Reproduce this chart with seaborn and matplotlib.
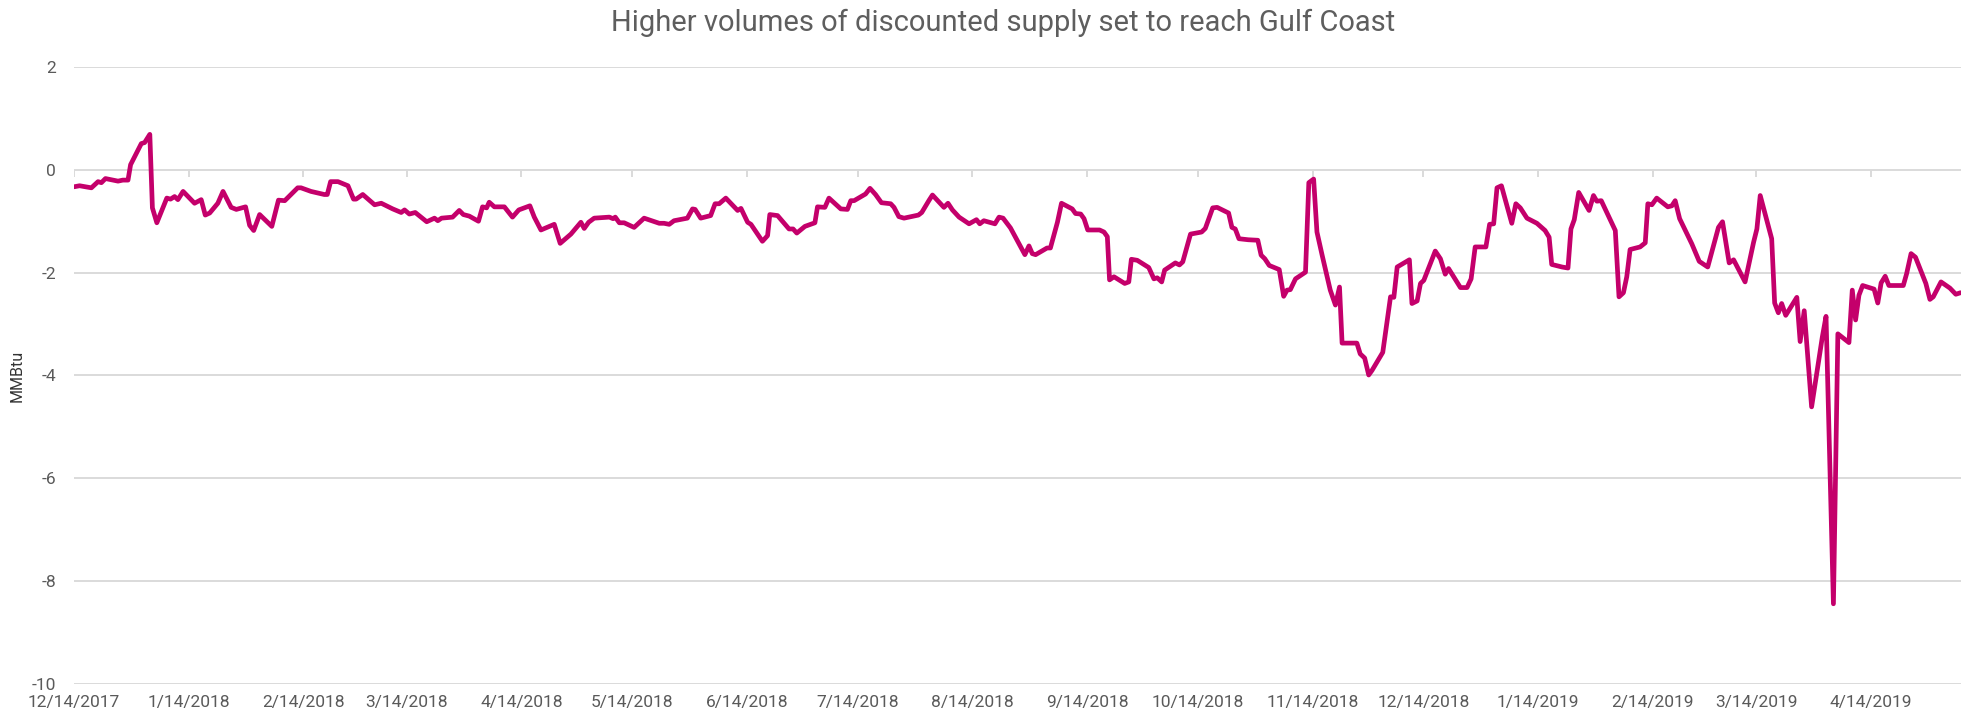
"""Gulf Coast basis spread chart (MMBtu), redrawn with seaborn."""

import matplotlib

matplotlib.use("Agg")

import matplotlib.pyplot as plt
import pandas as pd
import seaborn as sns

TITLE = "Higher volumes of discounted supply set to reach Gulf Coast"
Y_LABEL = "MMBtu"
START_DATE = "2017-12-14"

# Days after START_DATE.
DAYS = [
    0.0, 1.5, 4.7, 6.5, 7.4, 8.5, 11.9, 13.2, 14.6, 15.3, 18.2, 19.1, 20.5, 21.2,
    22.4, 25.1, 26.1, 27.2, 28.1, 29.5, 32.6, 34.4, 35.5, 36.7, 38.9, 40.3, 42.5,
    43.9, 46.4, 47.5, 48.6, 50.2, 53.5, 55.3, 57.0, 60.5, 61.4, 64.1, 67.7, 68.5,
    69.4, 71.4, 74.1, 75.6, 76.3, 78.1, 81.3, 83.1, 86.2,
    88.5, 89.4, 90.7, 92.3, 95.4, 97.5, 98.4, 99.4, 102.4, 104.2, 105.3, 106.9,
    109.4, 110.5, 111.6, 112.3, 113.7, 116.4, 118.6, 120.3, 123.3, 124.5, 126.3,
    129.9, 131.5, 134.4, 137.1, 138.0, 139.2, 140.7, 144.8, 145.8, 146.4, 147.5,
    148.8, 151.5, 154.2, 158.3, 159.6, 161.0, 162.3, 165.9, 167.3, 168.0, 169.5,
    172.2, 173.4, 174.5,
    176.3, 179.5, 180.4, 182.2, 183.1, 186.2, 187.6, 188.2, 190.3, 193.4, 194.5,
    195.5, 197.7, 200.4, 201.1, 203.1, 204.2, 207.4, 209.2, 210.1, 211.0, 214.1,
    215.3, 216.8, 218.4, 220.9, 221.8, 223.1, 224.5, 228.4, 229.3, 231.3, 232.2,
    235.3, 236.4, 237.6, 239.4, 242.1, 244.1, 245.0, 246.1, 249.1, 250.2, 251.3,
    253.3, 257.2, 258.3, 259.2, 260.1, 263.2, 264.1,
    266.0, 267.1, 270.0, 270.9, 272.3, 273.2, 274.2, 277.4, 278.6, 279.5, 280.1,
    281.3, 284.2, 285.3, 286.0, 287.6, 290.7, 292.1, 293.0, 294.2, 295.0, 297.9,
    299.0, 299.9, 302.0, 305.0, 306.0, 308.0, 309.2, 312.3, 313.2, 314.1, 315.1,
    317.6, 320.2, 321.1, 322.1, 323.3, 326.0, 327.2, 328.1, 329.0, 330.4, 333.1,
    334.0, 335.3, 336.2, 337.6, 339.8, 341.2, 342.3, 343.0, 347.0, 347.9, 349.1,
    350.2, 351.1,
    354.0, 356.1, 357.0, 357.9, 361.2, 361.9, 363.3, 364.2, 365.1, 368.2, 369.6,
    370.9, 371.8, 375.0, 376.8, 377.9, 379.0, 381.9, 382.9, 384.0, 384.9, 386.1,
    388.9, 390.0, 391.2, 393.0, 395.7, 397.9, 399.0, 399.7, 402.5, 404.1, 404.9,
    405.8, 407.0, 409.8, 411.0, 411.9, 413.1, 416.9, 417.9, 419.1, 420.0, 420.9,
    423.6, 425.0, 425.7, 426.8, 428.1, 431.1, 432.2, 433.1, 434.3, 437.6,
    439.6, 441.9, 444.8, 445.9, 447.7, 448.9, 452.0, 454.3, 455.2, 456.1, 459.2,
    460.0, 461.0, 461.9, 463.0, 466.0, 466.9, 468.0, 470.0, 472.9, 473.9, 475.9,
    477.1, 480.1, 481.0, 481.9, 482.8, 483.8, 486.9, 487.9, 488.8, 489.9, 490.9,
    494.8, 495.7, 496.9, 498.1, 500.9, 502.0, 502.9, 505.0, 507.4, 509.0, 510.3,
]

# Basis spread, $/MMBtu.
SPREAD = [
    -0.33, -0.31, -0.35, -0.23, -0.25, -0.17, -0.22, -0.20, -0.20, 0.10, 0.51,
    0.53, 0.69, -0.74, -1.03, -0.55, -0.57, -0.52, -0.58, -0.42, -0.65, -0.58,
    -0.88, -0.84, -0.65, -0.42, -0.73, -0.77, -0.72, -1.08, -1.18, -0.87, -1.10,
    -0.59, -0.60, -0.35, -0.35, -0.42, -0.48, -0.48, -0.23, -0.23, -0.31, -0.57,
    -0.57, -0.48, -0.68, -0.65, -0.76,
    -0.83, -0.78, -0.86, -0.83, -1.01, -0.94, -0.99, -0.94, -0.92, -0.79, -0.87,
    -0.90, -1.00, -0.72, -0.74, -0.63, -0.72, -0.72, -0.92, -0.78, -0.70, -0.92,
    -1.17, -1.06, -1.43, -1.25, -1.02, -1.14, -1.02, -0.94, -0.92, -0.95, -0.92,
    -1.03, -1.03, -1.12, -0.94, -1.04, -1.04, -1.06, -0.99, -0.94, -0.76, -0.77,
    -0.94, -0.89, -0.66, -0.66,
    -0.55, -0.79, -0.75, -1.02, -1.06, -1.39, -1.28, -0.87, -0.89, -1.15, -1.15,
    -1.23, -1.10, -1.03, -0.72, -0.73, -0.55, -0.76, -0.77, -0.60, -0.60, -0.47,
    -0.36, -0.48, -0.64, -0.66, -0.73, -0.91, -0.94, -0.88, -0.83, -0.59, -0.49,
    -0.73, -0.65, -0.78, -0.92, -1.05, -0.97, -1.05, -0.99, -1.05, -0.92, -0.94,
    -1.13, -1.65, -1.48, -1.63, -1.65, -1.52, -1.52,
    -1.02, -0.65, -0.76, -0.85, -0.86, -0.95, -1.17, -1.17, -1.21, -1.30, -2.14,
    -2.08, -2.21, -2.18, -1.74, -1.76, -1.90, -2.12, -2.10, -2.18, -1.95, -1.81,
    -1.85, -1.79, -1.25, -1.21, -1.14, -0.74, -0.73, -0.84, -1.12, -1.15, -1.34,
    -1.36, -1.37, -1.66, -1.73, -1.86, -1.94, -2.46, -2.34, -2.33, -2.12, -1.99,
    -0.25, -0.18, -1.21, -1.66, -2.34, -2.63, -2.28, -3.37, -3.37, -3.58, -3.66,
    -3.99, -3.90,
    -3.55, -2.47, -2.48, -1.89, -1.75, -2.60, -2.55, -2.21, -2.15, -1.58, -1.73,
    -2.03, -1.92, -2.29, -2.29, -2.12, -1.50, -1.50, -1.06, -1.05, -0.35, -0.31,
    -1.04, -0.66, -0.74, -0.94, -1.04, -1.18, -1.31, -1.84, -1.89, -1.91, -1.15,
    -0.97, -0.44, -0.79, -0.50, -0.61, -0.60, -1.18, -2.47, -2.39, -2.08, -1.55,
    -1.50, -1.42, -0.66, -0.68, -0.55, -0.72, -0.70, -0.60, -0.95, -1.44,
    -1.78, -1.89, -1.12, -1.01, -1.81, -1.75, -2.18, -1.41, -1.15, -0.50, -1.34,
    -2.59, -2.78, -2.60, -2.83, -2.48, -3.34, -2.74, -4.61, -3.25, -2.85, -8.44,
    -3.19, -3.36, -2.34, -2.92, -2.44, -2.25, -2.32, -2.59, -2.20, -2.07, -2.25,
    -2.25, -2.02, -1.63, -1.70, -2.21, -2.52, -2.47, -2.18, -2.30, -2.42, -2.39,
]

TICK_LABELS = [
    "12/14/2017", "1/14/2018", "2/14/2018", "3/14/2018", "4/14/2018",
    "5/14/2018", "6/14/2018", "7/14/2018", "8/14/2018", "9/14/2018",
    "10/14/2018", "11/14/2018", "12/14/2018", "1/14/2019", "2/14/2019",
    "3/14/2019", "4/14/2019",
]
Y_TICKS = [2, 0, -2, -4, -6, -8, -10]

LINE_COLOR = "#C4006B"
GRID_COLOR = "#DADADA"
TEXT_COLOR = "#5A5A5A"


def main() -> None:
    sns.set_theme(style="white")
    plt.rcParams["font.family"] = ["Roboto", "DejaVu Sans"]

    start = pd.Timestamp(START_DATE)
    df = pd.DataFrame(
        {
            "date": start + pd.to_timedelta(DAYS, unit="D"),
            "spread": SPREAD,
        }
    )
    tick_dates = pd.to_datetime(TICK_LABELS, format="%m/%d/%Y")

    fig = plt.figure(figsize=(19.74, 7.21), dpi=100)
    ax = fig.add_axes([0.0375, 0.0513, 0.9559, 0.8558])

    # Light horizontal grid only.
    for yv in Y_TICKS:
        ax.axhline(yv, color=GRID_COLOR, linewidth=1.4, zorder=0)

    # Small tick marks hang off the zero line (Highcharts-style).
    ax.vlines(tick_dates, -0.13, 0, color=GRID_COLOR, linewidth=1.4, zorder=0)

    sns.lineplot(
        data=df,
        x="date",
        y="spread",
        color=LINE_COLOR,
        linewidth=3.4,
        estimator=None,
        ax=ax,
    )

    ax.set_xlim(start, start + pd.Timedelta(days=510.4))
    ax.set_ylim(-10, 2)

    ax.set_xticks(tick_dates)
    ax.set_xticklabels(TICK_LABELS)
    ax.set_yticks(Y_TICKS)
    ax.set_yticklabels([str(v) for v in Y_TICKS])
    ax.tick_params(axis="x", length=0, pad=8, labelsize=12.5, labelcolor=TEXT_COLOR)
    ax.tick_params(axis="y", length=0, pad=13, labelsize=12.5, labelcolor=TEXT_COLOR)

    for side in ["top", "right", "bottom", "left"]:
        ax.spines[side].set_visible(False)
    ax.grid(False)

    ax.set_xlabel("")
    ax.set_ylabel(Y_LABEL, fontsize=11.5, color="#333333")
    ax.yaxis.set_label_coords(-0.0262, 0.5)

    fig.text(
        0.508,
        0.968,
        TITLE,
        ha="center",
        va="center",
        fontsize=21,
        color="#5E5E5E",
    )

    fig.savefig("out.png", dpi=100, facecolor="white")
    plt.close(fig)


if __name__ == "__main__":
    main()
